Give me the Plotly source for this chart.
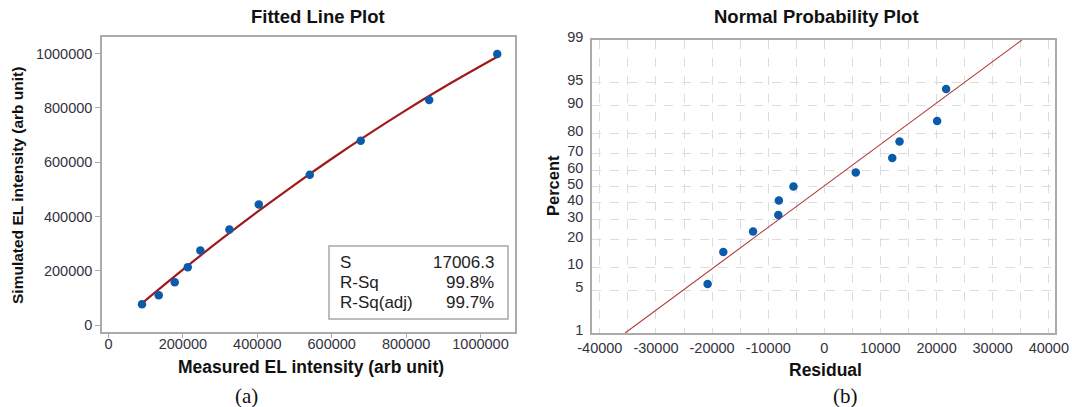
import plotly.graph_objects as go
from statistics import NormalDist

# ---------------- data ----------------
measured = [90000, 135000, 178000, 213000, 247000, 325000, 404000, 541000, 678000, 862000, 1045000]
simulated = [77000, 110000, 158000, 213000, 275000, 352000, 444000, 554000, 679000, 829000, 998000]

fit_x = [90000, 200000, 300000, 400000, 500000, 600000, 700000, 800000, 900000, 1045000]
fit_y = [80700, 204600, 312900, 417000, 517000, 612800, 704400, 791800, 875000, 988000]

left_ticks = [0, 200000, 400000, 600000, 800000, 1000000]

stat_labels = ["S", "R-Sq", "R-Sq(adj)"]
stat_values = ["17006.3", "99.8%", "99.7%"]

residuals = [-20800, -18000, -12700, -8200, -8100, -5500, 5600, 12100, 13400, 20100, 21700]
percents = [6.1, 14.9, 23.7, 32.5, 41.2, 50.0, 58.8, 67.5, 76.3, 85.1, 93.9]

ref_x = [-35500, 35200]
ref_pct = [1, 99]

res_ticks = [-40000, -30000, -20000, -10000, 0, 10000, 20000, 30000, 40000]
res_minor = [-35000, -25000, -15000, -5000, 5000, 15000, 25000, 35000]
pct_ticks = [1, 5, 10, 20, 30, 40, 50, 60, 70, 80, 90, 95, 99]

# ---------------- helpers ----------------
W, H = 1072, 407
nd = NormalDist()


def z(p):
    return nd.inv_cdf(p / 100.0)


def px(x):
    return x / W


def py(y):
    return 1 - y / H


SANS = "Liberation Sans, Arial, sans-serif"
TICKFONT = dict(family=SANS, size=14.5, color="#333340")
FRAME = "#ABABAB"
BLUE = "#0B5BAA"


def bold(size):
    return dict(family=SANS, size=size, color="#111111", weight="bold")


fig = go.Figure()

# left panel
fig.add_trace(go.Scatter(x=fit_x, y=fit_y, mode="lines", line=dict(color="#A11A1A", width=2.2, shape="spline"),
                         xaxis="x", yaxis="y", showlegend=False, hoverinfo="skip"))
fig.add_trace(go.Scatter(x=measured, y=simulated, mode="markers", marker=dict(color=BLUE, size=8.5),
                         xaxis="x", yaxis="y", showlegend=False))

# right panel
fig.add_trace(go.Scatter(x=ref_x, y=[z(p) for p in ref_pct], mode="lines", line=dict(color="#B03A3A", width=1.1),
                         xaxis="x2", yaxis="y2", showlegend=False, hoverinfo="skip"))
fig.add_trace(go.Scatter(x=residuals, y=[z(p) for p in percents], mode="markers", marker=dict(color=BLUE, size=8.5),
                         xaxis="x2", yaxis="y2", showlegend=False))

fig.update_layout(
    width=W, height=H,
    margin=dict(l=0, r=0, t=0, b=0, autoexpand=False),
    paper_bgcolor="white", plot_bgcolor="white",
    xaxis=dict(domain=[px(102), px(515)], anchor="y", range=[-17500, 1092700], automargin=False,
               tickvals=left_ticks, ticktext=[str(v) for v in left_ticks],
               showgrid=False, zeroline=False, showline=True, mirror=True, linecolor=FRAME, linewidth=1.5,
               ticks="outside", ticklen=4, tickcolor=FRAME, tickfont=TICKFONT, ticklabelstandoff=-6),
    yaxis=dict(domain=[py(332), py(37)], anchor="x", range=[-25000, 1061000], automargin=False,
               tickvals=left_ticks, ticktext=[str(v) for v in left_ticks],
               showgrid=False, zeroline=False, showline=True, mirror=True, linecolor=FRAME, linewidth=1.5,
               ticks="outside", ticklen=5, tickcolor=FRAME, tickfont=TICKFONT),
    xaxis2=dict(domain=[px(592), px(1055)], anchor="y2", range=[-41400, 41100], automargin=False,
                tickvals=res_ticks, ticktext=[str(v) for v in res_ticks],
                showgrid=True, gridcolor="#DCDCDC", griddash="dash", gridwidth=1,
                minor=dict(tickvals=res_minor, showgrid=True, gridcolor="#DCDCDC", griddash="dash", ticks=""),
                zeroline=False, showline=True, mirror=True, linecolor=FRAME, linewidth=1.5,
                ticks="outside", ticklen=2, tickcolor="white", tickfont=TICKFONT, ticklabelstandoff=-1),
    yaxis2=dict(domain=[py(333), py(40)], anchor="x2", range=[z(1), z(99)], automargin=False,
                tickvals=[z(p) for p in pct_ticks], ticktext=[str(p) for p in pct_ticks],
                showgrid=True, gridcolor="#DCDCDC", griddash="dash", gridwidth=1,
                zeroline=False, showline=True, mirror=True, linecolor=FRAME, linewidth=1.5,
                ticks="outside", ticklen=4, tickcolor="white", tickfont=TICKFONT, ticklabelshift=-3),
)

ann = []
ann.append(dict(text="Fitted Line Plot", x=px(318), y=py(17), font=bold(18.5)))
ann.append(dict(text="Normal Probability Plot", x=px(816), y=py(17), font=bold(18.5)))
ann.append(dict(text="Measured EL intensity (arb unit)", x=px(311), y=py(367), font=bold(17.5)))
ann.append(dict(text="Residual", x=px(825), y=py(370), font=bold(17.5)))
ann.append(dict(text="Simulated EL intensity (arb unit)", x=px(17), y=py(186), font=bold(15.5), textangle=-90))
ann.append(dict(text="Percent", x=px(553), y=py(186), font=bold(16.5), textangle=-90))
ann.append(dict(text="(a)", x=px(246), y=py(396),
                font=dict(family="Liberation Serif, Times New Roman, serif", size=21, color="#111111")))
ann.append(dict(text="(b)", x=px(845), y=py(396),
                font=dict(family="Liberation Serif, Times New Roman, serif", size=21, color="#111111")))

row_y = [262, 282, 302]
for lab, val, yy in zip(stat_labels, stat_values, row_y):
    ann.append(dict(text=lab, x=px(338), y=py(yy), xanchor="left", font=dict(family=SANS, size=17, color="#222222")))
    ann.append(dict(text=val, x=px(496), y=py(yy), xanchor="right", font=dict(family=SANS, size=17, color="#222222")))

for a in ann:
    a.setdefault("xanchor", "center")
    a.update(xref="paper", yref="paper", yanchor="middle", showarrow=False)

fig.update_layout(annotations=ann)
fig.add_shape(type="rect", xref="paper", yref="paper", x0=px(329), x1=px(508), y0=py(319), y1=py(246),
              line=dict(color="#A8A8A8", width=1.5), fillcolor="white", layer="below")

fig.write_html("out.html")
